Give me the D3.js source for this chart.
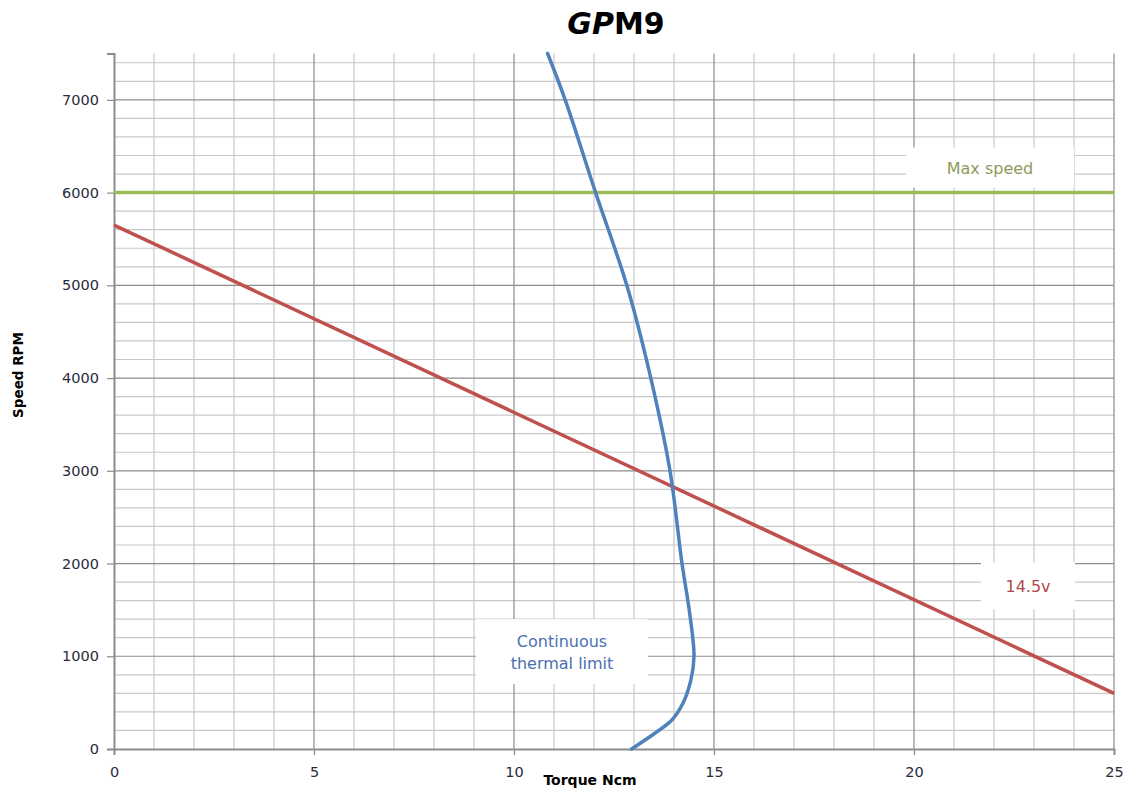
<!DOCTYPE html>
<html>
<head>
<meta charset="utf-8">
<script src="https://cdn.jsdelivr.net/npm/d3@7"></script>
<style>
  body { margin: 0; background: #fff; }
  text { font-family: "DejaVu Sans", Verdana, sans-serif; }
</style>
</head>
<body>
<script>
// torque (Ncm) / speed (RPM) data
var maxSpeed = 6000;
var voltageTorque = [0, 25];
var voltageSpeed = [5650, 600];
var thermalTorque = [12.94, 13.52, 13.94, 14.22, 14.42, 14.5, 14.38, 14.2, 13.9, 13.42, 12.82, 12.04, 11.28, 10.84];
var thermalSpeed = [0, 170, 310, 490, 740, 1000, 1500, 2000, 3000, 4000, 5000, 6000, 7000, 7500];
var xTicks = [0, 5, 10, 15, 20, 25];
var yTicks = [0, 1000, 2000, 3000, 4000, 5000, 6000, 7000];

var W = 1124, H = 789;
var marginLeft = 114, marginTop = 53.5, width = 1000, height = 695.5; // plot box

var svg = d3.select("body").append("svg")
    .attr("width", W)
    .attr("height", H);

var x = d3.scaleLinear().domain([0, 25]).range([0, width]);
var y = d3.scaleLinear().domain([0, 7500]).range([height, 0]);

var g = svg.append("g")
    .attr("transform", `translate(${marginLeft}, ${marginTop})`);

// minor grid
g.append("g").selectAll("line").data(d3.range(1, 25).filter(d => d % 5 != 0))
  .enter().append("line")
  .attr("x1", d => x(d)).attr("x2", d => x(d))
  .attr("y1", 0).attr("y2", height)
  .attr("stroke", "#c8c8c8").attr("stroke-width", 1.2);
g.append("g").selectAll("line").data(d3.range(200, 7600, 200).filter(d => d % 1000 != 0))
  .enter().append("line")
  .attr("x1", 0).attr("x2", width)
  .attr("y1", d => y(d)).attr("y2", d => y(d))
  .attr("stroke", "#c8c8c8").attr("stroke-width", 1.2);

// major grid
g.append("g").selectAll("line").data(xTicks.slice(1))
  .enter().append("line")
  .attr("x1", d => x(d)).attr("x2", d => x(d))
  .attr("y1", 0).attr("y2", height)
  .attr("stroke", "#8c8c8c").attr("stroke-width", 1.2);
g.append("g").selectAll("line").data(yTicks.slice(1))
  .enter().append("line")
  .attr("x1", 0).attr("x2", width)
  .attr("y1", d => y(d)).attr("y2", d => y(d))
  .attr("stroke", "#8c8c8c").attr("stroke-width", 1.2);

// axes
var yAxis = g.append("g")
  .call(d3.axisLeft(y).tickValues(yTicks).tickSize(7).tickPadding(8).tickFormat(d3.format("d")));
var xAxis = g.append("g")
  .attr("transform", `translate(0, ${height})`)
  .call(d3.axisBottom(x).tickValues(xTicks).tickSize(6).tickPadding(12));
[xAxis, yAxis].forEach(function(a) {
  a.select(".domain").attr("stroke", "#8c8c8c").attr("stroke-width", 2);
  a.selectAll(".tick line").attr("stroke", "#8c8c8c").attr("stroke-width", 1.2);
  a.selectAll(".tick text").attr("fill", "#2a2a3a")
    .style("font-family", '"DejaVu Sans", Verdana, sans-serif').style("font-size", "14.5px");
});

// annotation boxes (white, no border) drawn under the lines
function labelBox(cx, cy, w, h, lines, color) {
  var px = x(cx), py = y(cy);
  g.append("rect")
    .attr("x", px - w / 2).attr("y", py - h / 2)
    .attr("width", w).attr("height", h)
    .attr("fill", "#fff");
  var t = g.append("text")
    .attr("x", px).attr("y", py)
    .attr("text-anchor", "middle")
    .attr("fill", color)
    .style("font-size", "16px");
  lines.forEach(function(s, i) {
    t.append("tspan")
      .attr("x", px)
      .attr("dy", i == 0 ? (6 - (lines.length - 1) * 11) : 22)
      .text(s);
  });
}

// lines
g.append("line")
  .attr("x1", x(0)).attr("x2", x(25))
  .attr("y1", y(maxSpeed)).attr("y2", y(maxSpeed))
  .attr("stroke", "#9bbb59").attr("stroke-width", 3.5);

g.append("line")
  .attr("x1", x(voltageTorque[0])).attr("x2", x(voltageTorque[1]))
  .attr("y1", y(voltageSpeed[0])).attr("y2", y(voltageSpeed[1]))
  .attr("stroke", "#c0504d").attr("stroke-width", 3.5);

var thermal = thermalTorque.map((t, i) => [t, thermalSpeed[i]]);
g.append("path")
  .datum(thermal)
  .attr("fill", "none")
  .attr("stroke", "#4f81bd").attr("stroke-width", 3.5)
  .attr("stroke-linecap", "round")
  .attr("d", d3.line().x(d => x(d[0])).y(d => y(d[1])).curve(d3.curveCatmullRom.alpha(0.5)));

labelBox(21.9, 6270, 168, 40, ["Max speed"], "#8d9a5a");
labelBox(22.85, 1760, 94, 47, ["14.5v"], "#b04a4a");
labelBox(11.2, 1050, 172, 65, ["Continuous", "thermal limit"], "#4a6fb0");

// title
var title = svg.append("text")
  .attr("x", 616).attr("y", 34)
  .attr("text-anchor", "middle")
  .attr("fill", "#000")
  .style("font-size", "30px").style("font-weight", "bold");
title.append("tspan").style("font-style", "italic").text("GP");
title.append("tspan").text("M9");

// axis titles
svg.append("text")
  .attr("x", 590).attr("y", 785)
  .attr("text-anchor", "middle")
  .style("font-size", "14px").style("font-weight", "bold")
  .text("Torque Ncm");

svg.append("text")
  .attr("transform", "translate(23, 375) rotate(-90)")
  .attr("text-anchor", "middle")
  .style("font-size", "13.5px").style("font-weight", "bold")
  .text("Speed RPM");
</script>
</body>
</html>
